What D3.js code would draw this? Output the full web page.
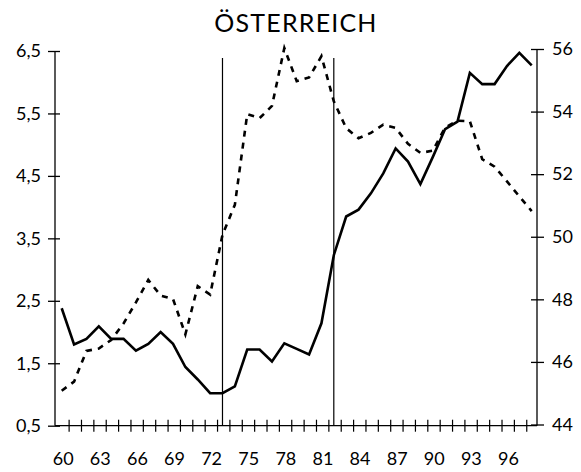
<!DOCTYPE html>
<html>
<head>
<meta charset="utf-8">
<script src="https://cdn.jsdelivr.net/npm/d3@7"></script>
<style>
  body { margin: 0; background: #fff; }
  text { font-family: Lato, "Noto Sans", sans-serif; fill: #000; }
</style>
</head>
<body>
<script>
// data
var years = [1960, 1961, 1962, 1963, 1964, 1965, 1966, 1967, 1968, 1969,
  1970, 1971, 1972, 1973, 1974, 1975, 1976, 1977, 1978, 1979,
  1980, 1981, 1982, 1983, 1984, 1985, 1986, 1987, 1988, 1989,
  1990, 1991, 1992, 1993, 1994, 1995, 1996, 1997, 1998];

// solid line, left axis
var solidValues = [2.38, 1.80, 1.89, 2.09, 1.89, 1.89, 1.70, 1.81, 2.00, 1.81,
  1.44, 1.24, 1.02, 1.02, 1.13, 1.72, 1.72, 1.53, 1.82, 1.73,
  1.64, 2.14, 3.23, 3.85, 3.96, 4.22, 4.54, 4.94, 4.73, 4.37,
  4.80, 5.25, 5.37, 6.15, 5.97, 5.97, 6.26, 6.47, 6.27];

// dashed line, right axis
var dashedValues = [45.08, 45.37, 46.35, 46.43, 46.70, 47.23, 47.90, 48.62, 48.12, 48.01,
  46.88, 48.42, 48.15, 50.06, 51.02, 53.92, 53.79, 54.18, 56.03, 54.97,
  55.09, 55.77, 54.33, 53.47, 53.15, 53.32, 53.58, 53.48, 52.97, 52.68,
  52.75, 53.49, 53.71, 53.69, 52.48, 52.24, 51.77, 51.29, 50.82];

var leftTicks = [0.5, 1.5, 2.5, 3.5, 4.5, 5.5, 6.5];
var rightTicks = [44, 46, 48, 50, 52, 54, 56];
var yearLabels = [1960, 1963, 1966, 1969, 1972, 1975, 1978, 1981, 1984, 1987, 1990, 1993, 1996];
var markerYears = [1973, 1982];

var w = 581;
var h = 472;

var svg = d3.select('body').append('svg')
  .attr('width', w)
  .attr('height', h);

// scales
var x = d3.scaleLinear().domain([1960, 1998]).range([61.7, 531.7]);
var yLeft = d3.scaleLinear().domain([0.5, 6.5]).range([425.7, 51]);
var yRight = d3.scaleLinear().domain([44, 56]).range([424.5, 49]);

var leftX = 55;
var rightX = 537;
var baseY = yLeft(0.5);

// title
svg.append('text')
  .attr('x', 296)
  .attr('y', 32)
  .attr('text-anchor', 'middle')
  .style('font-size', '25px')
  .style('letter-spacing', '1.2px')
  .text('ÖSTERREICH');

// left axis
var leftAxis = d3.axisLeft(yLeft)
  .tickValues(leftTicks)
  .tickSize(0)
  .tickPadding(0)
  .tickFormat(function(d) { return d3.format('.1f')(d).replace('.', ','); });

var gl = svg.append('g')
  .attr('transform', 'translate(' + leftX + ',0)')
  .call(leftAxis);
gl.select('.domain').remove();
gl.selectAll('.tick line').remove();
gl.selectAll('.tick text')
  .attr('x', -14)
  .style('font-size', '18px')
  .style('font-family', 'Lato, "Noto Sans", sans-serif');
gl.selectAll('.tick').append('line')
  .attr('x1', -7).attr('x2', 5)
  .attr('stroke', '#000').attr('stroke-width', 1.3);
gl.append('line')
  .attr('y1', yLeft(6.5)).attr('y2', baseY)
  .attr('stroke', '#000').attr('stroke-width', 1.3);

// right axis
var rightAxis = d3.axisRight(yRight)
  .tickValues(rightTicks)
  .tickSize(0)
  .tickPadding(0);

var gr = svg.append('g')
  .attr('transform', 'translate(' + rightX + ',0)')
  .call(rightAxis);
gr.select('.domain').remove();
gr.selectAll('.tick line').remove();
gr.selectAll('.tick text')
  .attr('x', 15)
  .style('font-size', '18px')
  .style('font-family', 'Lato, "Noto Sans", sans-serif');
gr.selectAll('.tick').append('line')
  .attr('x1', -6).attr('x2', 7)
  .attr('stroke', '#000').attr('stroke-width', 1.3);
gr.append('line')
  .attr('y1', yRight(56)).attr('y2', baseY)
  .attr('stroke', '#000').attr('stroke-width', 1.3);

// bottom axis: line, year ticks between the years, labels every 3 years
svg.append('line')
  .attr('x1', leftX).attr('x2', rightX)
  .attr('y1', baseY).attr('y2', baseY)
  .attr('stroke', '#000').attr('stroke-width', 1.3);

svg.selectAll('.xtick').data(years.slice(0, -1))
  .enter()
  .append('line')
  .classed('xtick', true)
  .attr('x1', function(d) { return x(d + 0.6); })
  .attr('x2', function(d) { return x(d + 0.6); })
  .attr('y1', baseY - 6)
  .attr('y2', baseY + 6)
  .attr('stroke', '#000')
  .attr('stroke-width', 1.2);

svg.selectAll('.xlabel').data(yearLabels)
  .enter()
  .append('text')
  .classed('xlabel', true)
  .attr('x', function(d) { return x(d) + 1.5; })
  .attr('y', 465)
  .attr('text-anchor', 'middle')
  .style('font-size', '18px')
  .text(function(d) { return String(d).slice(2); });

// vertical marker lines
svg.selectAll('.marker').data(markerYears)
  .enter()
  .append('line')
  .classed('marker', true)
  .attr('x1', function(d) { return x(d); })
  .attr('x2', function(d) { return x(d); })
  .attr('y1', 58)
  .attr('y2', baseY)
  .attr('stroke', '#000')
  .attr('stroke-width', 1.2);

// lines
var solidLine = d3.line()
  .x(function(d, i) { return x(years[i]); })
  .y(function(d) { return yLeft(d); });

var dashedLine = d3.line()
  .x(function(d, i) { return x(years[i]); })
  .y(function(d) { return yRight(d); });

svg.append('path')
  .datum(dashedValues)
  .attr('d', dashedLine)
  .attr('fill', 'none')
  .attr('stroke', '#000')
  .attr('stroke-width', 2.6)
  .attr('stroke-dasharray', '6,6');

svg.append('path')
  .datum(solidValues)
  .attr('d', solidLine)
  .attr('fill', 'none')
  .attr('stroke', '#000')
  .attr('stroke-width', 2.6)
  .attr('stroke-linejoin', 'miter');
</script>
</body>
</html>
